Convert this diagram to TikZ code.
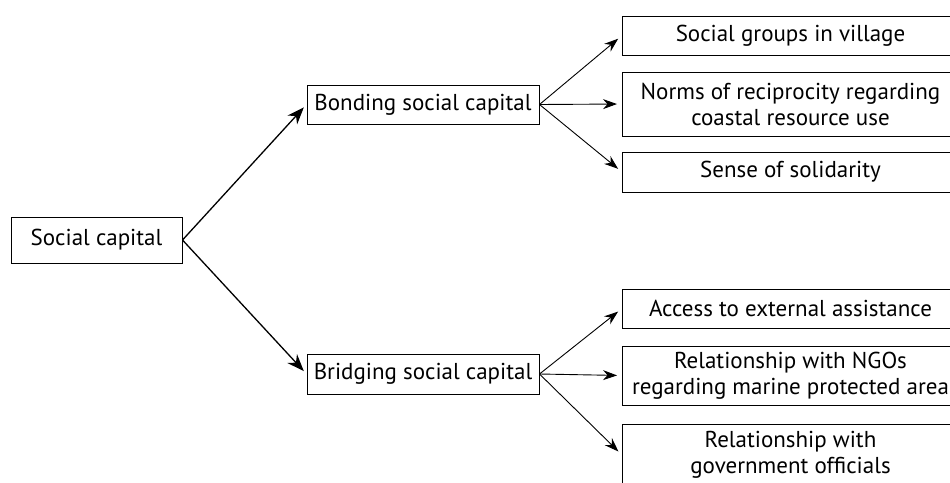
\documentclass[tikz,border=0pt]{standalone}
\usepackage{fontspec}
\setmainfont{PT Sans}
\usetikzlibrary{arrows.meta}

\begin{document}
\begin{tikzpicture}[x=1pt, y=-1pt,
	box/.style={draw, line width=1pt, inner sep=0pt, align=center,
		font=\fontsize{23}{26}\selectfont},
	leaf/.style={box, anchor=west, minimum width=336pt},
	trunk/.style={-{Stealth[length=17pt, width=13pt]}, line width=1.3pt, shorten >=4pt},
	twig/.style={-{Stealth[length=14pt, width=10pt]}, line width=0.9pt, shorten >=5pt}]
	\path[use as bounding box, clip] (0,0) rectangle (950,482);
	% root and the two branches
	\node[box, minimum width=171pt, minimum height=46pt] (social) at (96.5,240) {Social capital};
	\node[box, minimum width=232pt, minimum height=39pt] (bonding) at (423,104.5) {Bonding social capital};
	\node[box, minimum width=232pt, minimum height=40pt] (bridging) at (423,374) {Bridging social capital};
	% leaves
	\node[leaf, minimum height=39pt] (groups) at (622,35.5) {Social groups in village};
	\node[leaf, minimum height=64pt] (norms) at (622,104) {Norms of reciprocity regarding\\coastal resource use};
	\node[leaf, minimum height=40pt] (solidarity) at (622,172) {Sense of solidarity};
	\node[leaf, minimum height=39pt] (access) at (622,308.5) {Access to external assistance};
	\node[leaf, minimum height=59pt] (ngos) at (622,375.5) {Relationship with NGOs\\regarding marine protected area};
	\node[leaf, minimum height=62pt] (officials) at (622,455) {Relationship with\\government officials};
	% connectors
	\draw[trunk] (social.east) -- (bonding.west);
	\draw[trunk] (social.east) -- (bridging.west);
	\foreach \leaf in {groups, norms, solidarity}
		\draw[twig] (bonding.east) -- (\leaf.west);
	\foreach \leaf in {access, ngos, officials}
		\draw[twig] (bridging.east) -- (\leaf.west);
\end{tikzpicture}
\end{document}
